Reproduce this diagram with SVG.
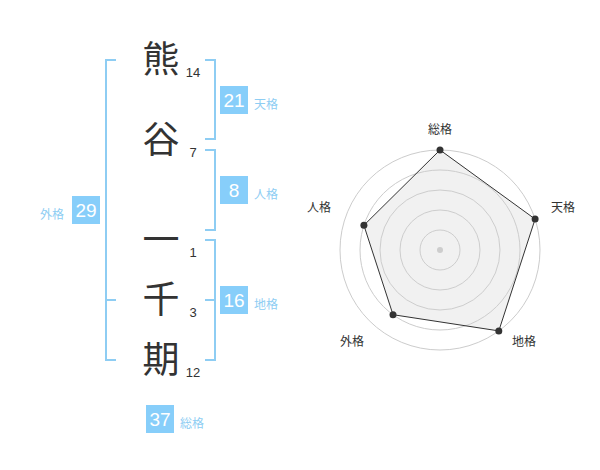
<svg xmlns="http://www.w3.org/2000/svg" width="600" height="470" viewBox="0 0 600 470">
<style>
.k{font-family:"Noto Sans CJK JP","Noto Sans CJK SC",sans-serif;font-size:37px;fill:#333;text-anchor:middle}
.n{font-family:"Liberation Sans",Arial,sans-serif;font-size:13px;fill:#333;text-anchor:middle}
.br{fill:none;stroke:#8ecdf3;stroke-width:2}
.box{fill:#87cefa}
.bn{font-family:"Liberation Sans",Arial,sans-serif;font-size:19px;fill:#fff;text-anchor:middle}
.lb{font-family:"Noto Sans CJK JP","Noto Sans CJK SC",sans-serif;font-size:12px;fill:#8ecdf3}
.rl{font-family:"Noto Sans CJK JP","Noto Sans CJK SC",sans-serif;font-size:12px;fill:#333;text-anchor:middle}
.ring{fill:none;stroke:#ccc;stroke-width:1}
</style>
<rect width="600" height="470" fill="#fff"/>
<g id="connectors">
<path class="br" d="M116,60H106V360H116M106,300H116"/>
<path class="br" d="M205,60H215V139H205"/>
<path class="br" d="M205,150H215V230H205"/>
<path class="br" d="M205,240H215V360H205M205,300H215"/>
</g>
<g id="char1"><text class="k" x="161" y="73">熊</text><text class="n" x="193" y="77">14</text></g>
<g id="char2"><text class="k" x="161" y="153">谷</text><text class="n" x="193" y="157">7</text></g>
<g id="char3"><text class="k" x="161" y="253">一</text><text class="n" x="193" y="257">1</text></g>
<g id="char4"><text class="k" x="161" y="313">千</text><text class="n" x="193" y="317">3</text></g>
<g id="char5"><text class="k" x="161" y="373">期</text><text class="n" x="193" y="377">12</text></g>
<g id="tenkaku"><rect class="box" x="220" y="86" width="28" height="28"/><text class="bn" x="234" y="107">21</text><text class="lb" x="254" y="109">天格</text></g>
<g id="jinkaku"><rect class="box" x="220" y="176" width="28" height="28"/><text class="bn" x="234" y="197">8</text><text class="lb" x="254" y="199">人格</text></g>
<g id="chikaku"><rect class="box" x="220" y="286" width="28" height="28"/><text class="bn" x="234" y="307">16</text><text class="lb" x="254" y="309">地格</text></g>
<g id="gaikaku"><rect class="box" x="72" y="196" width="28" height="28"/><text class="bn" x="86" y="217">29</text><text class="lb" x="40" y="219">外格</text></g>
<g id="soukaku"><rect class="box" x="146" y="405" width="28" height="28"/><text class="bn" x="160" y="426">37</text><text class="lb" x="180" y="428">総格</text></g>
<g id="radar">
<circle class="ring" cx="440" cy="250" r="20"/>
<circle class="ring" cx="440" cy="250" r="40"/>
<circle class="ring" cx="440" cy="250" r="60"/>
<circle class="ring" cx="440" cy="250" r="80"/>
<circle class="ring" cx="440" cy="250" r="100"/>
<circle cx="440" cy="250" r="3" fill="#ccc"/>
<polygon points="440,150 535.1,219.1 498.8,330.9 393,314.7 363.9,225.3" fill="rgba(210,210,210,0.3)" stroke="#333" stroke-width="1"/>
<g fill="#333">
<circle cx="440" cy="150" r="3.5"/>
<circle cx="535.1" cy="219.1" r="3.5"/>
<circle cx="498.8" cy="330.9" r="3.5"/>
<circle cx="393" cy="314.7" r="3.5"/>
<circle cx="363.9" cy="225.3" r="3.5"/>
</g>
<text class="rl" x="440" y="134">総格</text>
<text class="rl" x="563" y="212">天格</text>
<text class="rl" x="524" y="346">地格</text>
<text class="rl" x="352" y="346">外格</text>
<text class="rl" x="319" y="212">人格</text>
</g>
</svg>
